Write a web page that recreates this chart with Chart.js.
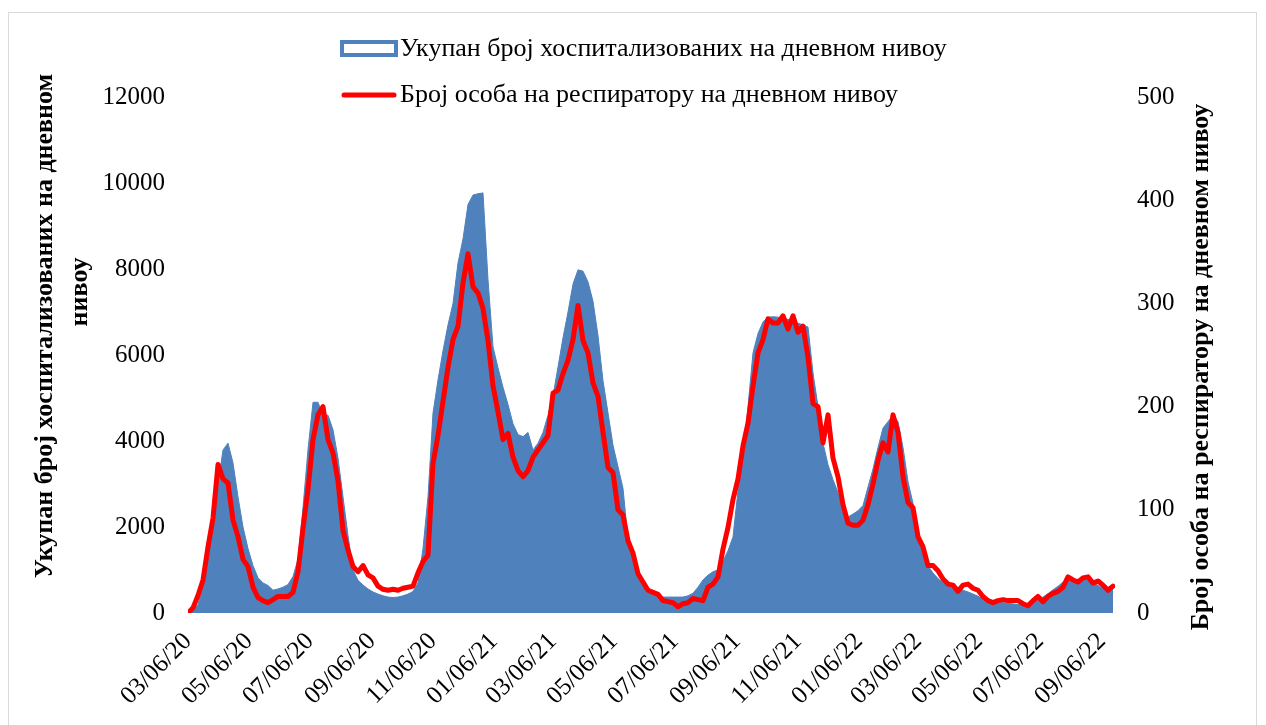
<!DOCTYPE html>
<html>
<head>
<meta charset="utf-8">
<script src="https://cdn.jsdelivr.net/npm/chart.js@4.4.1/dist/chart.umd.min.js"></script>
<style>
  html, body { margin: 0; padding: 0; background: #fff; }
  #wrap { width: 1266px; height: 725px; position: relative; }
</style>
</head>
<body>
<div id="wrap"><canvas id="covidChart"></canvas></div>
<script>
// daily series, one sample every 5 days from 03/06/20
const startDate = '2020-03-06';
const sampleStepDays = 5;

const xTickLabels = ['03/06/20', '05/06/20', '07/06/20', '09/06/20', '11/06/20', '01/06/21',
  '03/06/21', '05/06/21', '07/06/21', '09/06/21', '11/06/21', '01/06/22',
  '03/06/22', '05/06/22', '07/06/22', '09/06/22'];

const leftTicks = [0, 2000, 4000, 6000, 8000, 10000, 12000];
const rightTicks = [0, 100, 200, 300, 400, 500];

const hospitalized = [
  0, 50, 200, 600, 1300, 2230, 3000, 3790, 3950, 3490, 2700, 2000, 1500, 1100, 820, 700,
  640, 530, 560, 600, 660, 850, 1250, 2450, 3800, 4900, 4900, 4600, 4600, 4260, 3600, 2700,
  1800, 1000, 760, 650, 560, 490, 440, 400, 370, 360, 370, 400, 440, 500, 700, 1500,
  2700, 4650, 5420, 6100, 6700, 7200, 8140, 8700, 9500, 9720, 9750, 9770, 7750, 6190, 5700, 5250,
  4850, 4400, 4150, 4100, 4200, 3790, 3950, 4200, 4600, 5050, 5720, 6400, 7000, 7650, 7980, 7950,
  7700, 7250, 6450, 5400, 4650, 3900, 3400, 2900, 1700, 1160, 850, 650, 530, 460, 400, 370,
  370, 370, 370, 370, 400, 460, 600, 770, 880, 960, 1000, 1200, 1450, 1770, 2850, 3600,
  4800, 6050, 6500, 6770, 6880, 6890, 6880, 6860, 6830, 6780, 6740, 6700, 6650, 5580, 4800, 3950,
  3450, 3100, 2800, 2350, 2230, 2300, 2380, 2500, 2930, 3350, 3850, 4300, 4450, 4600, 4450, 3850,
  3050, 2550, 1900, 1450, 1100, 930, 800, 700, 640, 610, 580, 530, 490, 440, 390, 330,
  290, 260, 250, 240, 230, 210, 195, 195, 220, 260, 310, 370, 450, 540, 620, 720,
  760, 770, 770, 770, 770, 720, 640, 580, 530, 620
];

const onRespirator = [
  0, 5, 17, 32, 64, 92, 144, 130, 126, 90, 74, 52, 45, 25, 15, 12,
  10, 13, 16, 16, 16, 20, 40, 82, 120, 168, 192, 200, 168, 155, 128, 80,
  61, 45, 40, 46, 37, 34, 26, 23, 22, 23, 22, 24, 25, 26, 39, 50,
  56, 145, 172, 205, 238, 265, 278, 320, 348, 316, 310, 295, 264, 220, 195, 168,
  174, 151, 138, 132, 138, 151, 158, 165, 172, 213, 216, 232, 245, 265, 298, 264,
  252, 223, 210, 175, 141, 136, 100, 95, 70, 58, 38, 30, 22, 20, 18, 12,
  11, 10, 6, 9, 10, 14, 13, 12, 25, 28, 35, 62, 83, 110, 130, 162,
  184, 220, 252, 265, 285, 281, 281, 288, 275, 288, 272, 278, 248, 203, 200, 165,
  192, 150, 132, 105, 87, 85, 85, 90, 105, 125, 148, 165, 156, 192, 175, 132,
  107, 102, 74, 64, 46, 46, 41, 33, 28, 27, 21, 27, 28, 24, 22, 16,
  12, 10, 12, 13, 12, 12, 12, 9, 7, 12, 16, 11, 16, 19, 21, 25,
  35, 32, 30, 34, 35, 29, 31, 27, 22, 26
];

const BLUE = '#4F81BD';
const RED = '#FF0000';
const FONT = "'Liberation Serif', 'Times New Roman', serif";

function dayOffset(label) {
  // MM/DD/YY -> days since startDate
  const [mm, dd, yy] = label.split('/').map(Number);
  const t = Date.UTC(2000 + yy, mm - 1, dd);
  return Math.round((t - Date.parse(startDate + 'T00:00:00Z')) / 86400000);
}
const xTickDays = xTickLabels.map(dayOffset);

const toPoints = arr => arr.map((v, i) => ({ x: i * sampleStepDays, y: v }));

// legend, axis titles and frame, placed like the original
const decorations = {
  id: 'decorations',
  afterDraw(chart) {
    const ctx = chart.ctx;
    ctx.save();
    ctx.strokeStyle = '#d9d9d9';
    ctx.lineWidth = 1;
    ctx.strokeRect(8.5, 12.5, 1248, 730);

    // legend
    ctx.fillStyle = '#fff';
    ctx.fillRect(342, 42, 54, 13);
    ctx.strokeStyle = BLUE;
    ctx.lineWidth = 4;
    ctx.strokeRect(342, 42, 54, 13);
    ctx.strokeStyle = RED;
    ctx.lineWidth = 5;
    ctx.lineCap = 'round';
    ctx.beginPath();
    ctx.moveTo(344, 95);
    ctx.lineTo(394, 95);
    ctx.stroke();

    ctx.fillStyle = '#000';
    ctx.font = '26px ' + FONT;
    ctx.textBaseline = 'middle';
    ctx.textAlign = 'left';
    ctx.fillText('Укупан број хоспитализованих на дневном нивоу', 400, 49);
    ctx.fillText('Број особа на респиратору на дневном нивоу', 400, 95);

    // axis titles
    ctx.font = 'bold 26px ' + FONT;
    ctx.textAlign = 'center';
    ctx.save();
    ctx.rotate(-Math.PI / 2);
    ctx.fillText('Укупан број хоспитализованих на дневном', -326, 45);
    ctx.fillText('нивоу', -292, 80);
    ctx.restore();

    ctx.save();
    ctx.translate(1201, 367);
    ctx.rotate(-Math.PI / 2);
    ctx.fillText('Број особа на респиратору на дневном нивоу', 0, 0);
    ctx.restore();
    ctx.restore();
  }
};

const ctx = document.getElementById('covidChart').getContext('2d');
new Chart(ctx, {
  type: 'line',
  data: {
    datasets: [
      {
        label: 'Број особа на респиратору на дневном нивоу',
        data: toPoints(onRespirator),
        yAxisID: 'y1',
        borderColor: RED,
        borderWidth: 5,
        borderJoinStyle: 'round',
        borderCapStyle: 'round',
        pointRadius: 0,
        tension: 0,
        fill: false,
        order: 0
      },
      {
        label: 'Укупан број хоспитализованих на дневном нивоу',
        data: toPoints(hospitalized),
        yAxisID: 'y',
        borderColor: BLUE,
        backgroundColor: BLUE,
        borderWidth: 1,
        pointRadius: 0,
        tension: 0,
        fill: 'origin',
        order: 1
      }
    ]
  },
  options: {
    responsive: true,
    maintainAspectRatio: false,
    animation: false,
    layout: { padding: { top: 97, left: 0, right: 0, bottom: 0 } },
    plugins: {
      legend: { display: false },
      tooltip: { enabled: false }
    },
    scales: {
      x: {
        type: 'linear',
        min: 0,
        max: 927,
        grid: { display: false, drawTicks: false },
        border: { display: false },
        afterBuildTicks: s => { s.ticks = xTickDays.map(v => ({ value: v })); },
        afterFit: s => { s.height = 725 - 613; },
        ticks: {
          autoSkip: false,
          minRotation: 45,
          maxRotation: 45,
          padding: 14,
          color: '#000',
          font: { family: FONT, size: 25 },
          callback: (value, index) => xTickLabels[index]
        }
      },
      y: {
        position: 'left',
        min: 0,
        max: 12000,
        grid: { display: false, drawTicks: false },
        border: { display: false },
        afterBuildTicks: s => { s.ticks = leftTicks.map(v => ({ value: v })); },
        afterFit: s => { s.width = 188; },
        ticks: {
          padding: 23,
          color: '#000',
          font: { family: FONT, size: 25 },
          callback: v => String(v)
        }
      },
      y1: {
        position: 'right',
        min: 0,
        max: 500,
        grid: { display: false, drawTicks: false },
        border: { display: false },
        afterBuildTicks: s => { s.ticks = rightTicks.map(v => ({ value: v })); },
        afterFit: s => { s.width = 1266 - 1115; },
        ticks: {
          padding: 22,
          color: '#000',
          font: { family: FONT, size: 25 },
          callback: v => String(v)
        }
      }
    }
  },
  plugins: [decorations]
});
</script>
</body>
</html>
